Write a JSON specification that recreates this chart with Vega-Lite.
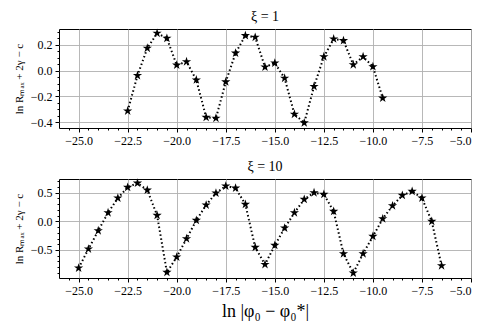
{
  "$schema": "https://vega.github.io/schema/vega-lite/v6.json",
  "padding": {"left": 12, "top": 9, "right": 20, "bottom": 5},
  "spacing": 12,
  "config": {
    "font": "Liberation Serif",
    "view": {"stroke": "#000000", "strokeWidth": 1},
    "axis": {
      "labelFont": "Liberation Serif", "titleFont": "Liberation Serif",
      "labelFontSize": 12, "titleFontSize": 11, "labelColor": "#000", "titleColor": "#000",
      "tickColor": "#000", "tickSize": 4, "labelPadding": 3, "domain": false,
      "gridColor": "#b0b0b0", "gridWidth": 0.9, "titleFontWeight": "normal"
    },
    "title": {"font": "Liberation Serif", "fontSize": 14, "fontWeight": "normal", "offset": 4, "color": "#000"}
  },
  "datasets": {
    "top": [
      {"x": -22.5, "y": -0.313}, {"x": -22.0, "y": -0.038}, {"x": -21.5, "y": 0.174}, {"x": -21.0, "y": 0.29},
      {"x": -20.5, "y": 0.251}, {"x": -20.0, "y": 0.043}, {"x": -19.5, "y": 0.069}, {"x": -19.0, "y": -0.072},
      {"x": -18.5, "y": -0.362}, {"x": -18.0, "y": -0.369}, {"x": -17.5, "y": -0.087}, {"x": -17.0, "y": 0.136},
      {"x": -16.5, "y": 0.272}, {"x": -16.0, "y": 0.259}, {"x": -15.5, "y": 0.028}, {"x": -15.0, "y": 0.059},
      {"x": -14.5, "y": -0.059}, {"x": -14.0, "y": -0.338}, {"x": -13.5, "y": -0.405}, {"x": -13.0, "y": -0.123},
      {"x": -12.5, "y": 0.108}, {"x": -12.0, "y": 0.246}, {"x": -11.5, "y": 0.233}, {"x": -11.0, "y": 0.046},
      {"x": -10.5, "y": 0.108}, {"x": -10.0, "y": 0.031}, {"x": -9.5, "y": -0.213}
    ],
    "bottom": [
      {"x": -25.0, "y": -0.815}, {"x": -24.5, "y": -0.483}, {"x": -24.0, "y": -0.164}, {"x": -23.5, "y": 0.15},
      {"x": -23.0, "y": 0.407}, {"x": -22.5, "y": 0.593}, {"x": -22.0, "y": 0.668}, {"x": -21.5, "y": 0.546},
      {"x": -21.0, "y": 0.105}, {"x": -20.5, "y": -0.89}, {"x": -20.0, "y": -0.623}, {"x": -19.5, "y": -0.303},
      {"x": -19.0, "y": 0.017}, {"x": -18.5, "y": 0.285}, {"x": -18.0, "y": 0.494}, {"x": -17.5, "y": 0.616},
      {"x": -17.0, "y": 0.581}, {"x": -16.5, "y": 0.297}, {"x": -16.0, "y": -0.454}, {"x": -15.5, "y": -0.753},
      {"x": -15.0, "y": -0.419}, {"x": -14.5, "y": -0.117}, {"x": -14.0, "y": 0.15}, {"x": -13.5, "y": 0.384},
      {"x": -13.0, "y": 0.5}, {"x": -12.5, "y": 0.471}, {"x": -12.0, "y": 0.174}, {"x": -11.5, "y": -0.565},
      {"x": -11.0, "y": -0.902}, {"x": -10.5, "y": -0.565}, {"x": -10.0, "y": -0.262}, {"x": -9.5, "y": 0.045},
      {"x": -9.0, "y": 0.272}, {"x": -8.5, "y": 0.454}, {"x": -8.0, "y": 0.524}, {"x": -7.5, "y": 0.407},
      {"x": -7.0, "y": 0.0}, {"x": -6.5, "y": -0.775}
    ]
  },
  "vconcat": [
    {
      "width": 412, "height": 99,
      "title": "ξ = 1",
      "data": {"name": "top"},
      "resolve": {"axis": {"x": "independent", "y": "independent"}},
      "layer": [
        {
          "mark": {"type": "line", "color": "#000", "strokeWidth": 2, "strokeDash": [1.5, 2.5]},
          "encoding": {
            "x": {"field": "x", "type": "quantitative", "scale": {"domain": [-26, -5], "nice": false, "zero": false},
                  "axis": {"orient": "bottom", "title": null, "values": [-25, -22.5, -20, -17.5, -15, -12.5, -10, -7.5, -5], "format": ".1f"}},
            "y": {"field": "y", "type": "quantitative", "scale": {"domain": [-0.445, 0.323], "nice": false, "zero": false},
                  "axis": {"orient": "left", "title": "ln Rₘₐₓ + 2γ − c", "values": [-0.4, -0.2, 0, 0.2], "format": ".1f", "titlePadding": 6}}
          }
        },
        {
          "mark": {"type": "point", "shape": "M0,-1L0.2245,-0.309L0.951,-0.309L0.363,0.118L0.588,0.809L0,0.382L-0.588,0.809L-0.363,0.118L-0.951,-0.309L-0.2245,-0.309Z", "filled": true, "color": "#000", "size": 95, "opacity": 1},
          "encoding": {
            "x": {"field": "x", "type": "quantitative", "scale": {"domain": [-26, -5], "nice": false, "zero": false},
                  "axis": {"orient": "bottom", "title": null, "labels": false, "grid": false, "tickSize": 2,
                           "values": [-25.5, -24.5, -24, -23.5, -23, -22, -21.5, -21, -20.5, -19.5, -19, -18.5, -18, -17, -16.5, -16, -15.5, -14.5, -14, -13.5, -13, -12, -11.5, -11, -10.5, -9.5, -9, -8.5, -8, -7, -6.5, -6, -5.5]}},
            "y": {"field": "y", "type": "quantitative", "scale": {"domain": [-0.445, 0.323], "nice": false, "zero": false},
                  "axis": {"orient": "left", "title": null, "labels": false, "grid": false, "tickSize": 2,
                           "values": [-0.35, -0.3, -0.25, -0.15, -0.1, -0.05, 0.05, 0.1, 0.15, 0.25, 0.3]}}
          }
        }
      ]
    },
    {
      "width": 412, "height": 99,
      "title": "ξ = 10",
      "data": {"name": "bottom"},
      "resolve": {"axis": {"x": "independent", "y": "independent"}},
      "layer": [
        {
          "mark": {"type": "line", "color": "#000", "strokeWidth": 2, "strokeDash": [1.5, 2.5]},
          "encoding": {
            "x": {"field": "x", "type": "quantitative", "scale": {"domain": [-26, -5], "nice": false, "zero": false},
                  "axis": {"orient": "bottom", "title": "ln |φ₀ − φ₀*|", "titleFontSize": 18, "titlePadding": 6, "values": [-25, -22.5, -20, -17.5, -15, -12.5, -10, -7.5, -5], "format": ".1f"}},
            "y": {"field": "y", "type": "quantitative", "scale": {"domain": [-0.989, 0.739], "nice": false, "zero": false},
                  "axis": {"orient": "left", "title": "ln Rₘₐₓ + 2γ − c", "values": [-0.5, 0, 0.5], "format": ".1f", "titlePadding": 6}}
          }
        },
        {
          "mark": {"type": "point", "shape": "M0,-1L0.2245,-0.309L0.951,-0.309L0.363,0.118L0.588,0.809L0,0.382L-0.588,0.809L-0.363,0.118L-0.951,-0.309L-0.2245,-0.309Z", "filled": true, "color": "#000", "size": 95, "opacity": 1},
          "encoding": {
            "x": {"field": "x", "type": "quantitative", "scale": {"domain": [-26, -5], "nice": false, "zero": false},
                  "axis": {"orient": "bottom", "title": null, "labels": false, "grid": false, "tickSize": 2,
                           "values": [-25.5, -24.5, -24, -23.5, -23, -22, -21.5, -21, -20.5, -19.5, -19, -18.5, -18, -17, -16.5, -16, -15.5, -14.5, -14, -13.5, -13, -12, -11.5, -11, -10.5, -9.5, -9, -8.5, -8, -7, -6.5, -6, -5.5]}},
            "y": {"field": "y", "type": "quantitative", "scale": {"domain": [-0.989, 0.739], "nice": false, "zero": false},
                  "axis": {"orient": "left", "title": null, "labels": false, "grid": false, "tickSize": 2,
                           "values": [-0.9, -0.8, -0.7, -0.6, -0.4, -0.3, -0.2, -0.1, 0.1, 0.2, 0.3, 0.4, 0.6, 0.7]}}
          }
        }
      ]
    }
  ]
}
